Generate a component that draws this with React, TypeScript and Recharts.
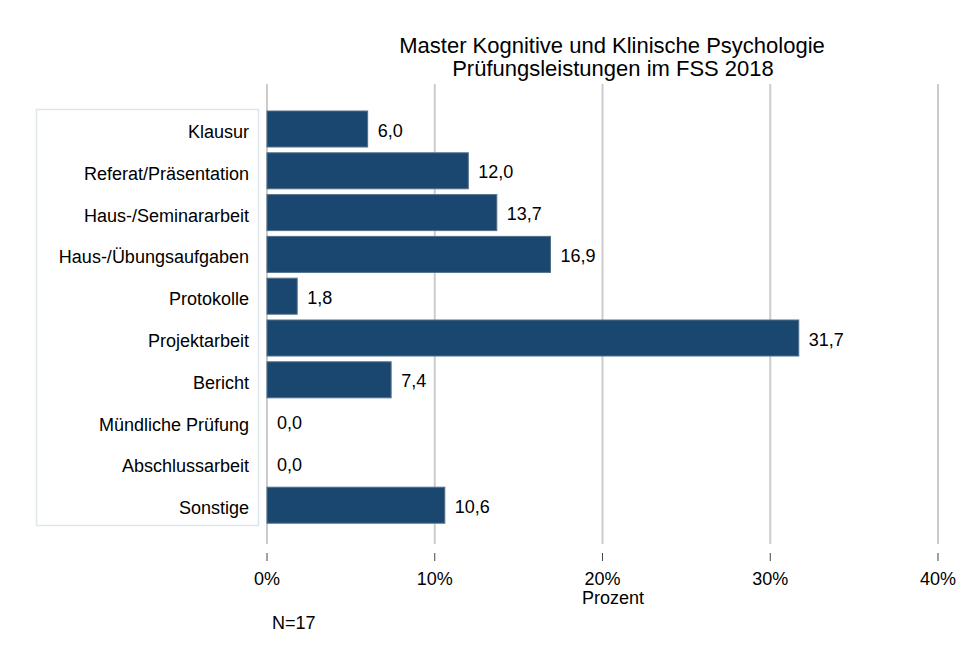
import React from 'react';
import { BarChart, Bar, XAxis, YAxis, CartesianGrid, LabelList } from 'recharts';

const categories = [
  'Klausur',
  'Referat/Präsentation',
  'Haus-/Seminararbeit',
  'Haus-/Übungsaufgaben',
  'Protokolle',
  'Projektarbeit',
  'Bericht',
  'Mündliche Prüfung',
  'Abschlussarbeit',
  'Sonstige',
];
const percentages = [6.0, 12.0, 13.7, 16.9, 1.8, 31.7, 7.4, 0.0, 0.0, 10.6];
const xTicks = [0, 10, 20, 30, 40];
const titleLines = ['Master Kognitive und Klinische Psychologie', 'Prüfungsleistungen im FSS 2018'];
const axisTitle = 'Prozent';
const note = 'N=17';

const data = categories.map((c, i) => ({ category: c, value: percentages[i] }));

const FONT = '"Liberation Sans", Arial, sans-serif';

const XTick = (props: any) => {
  const { x, y, payload } = props;
  return (
    <g>
      <line x1={x} x2={x} y1={y + 9} y2={y + 17} stroke="#444" strokeWidth={1} />
      <text x={x} y={y + 41} textAnchor="middle" fontSize={18} fontFamily={FONT} fill="#000">
        {payload.value}%
      </text>
    </g>
  );
};

const YTick = (props: any) => {
  const { x, y, payload } = props;
  return (
    <text x={x} y={y + 9} textAnchor="end" fontSize={18} fontFamily={FONT} fill="#000">
      {payload.value}
    </text>
  );
};

const ValueLabel = (props: any) => {
  const { x, y, width, height, value } = props;
  return (
    <text
      x={Number(x) + Number(width) + 10}
      y={Number(y) + Number(height) / 2 + 7.5}
      textAnchor="start"
      fontSize={18}
      fontFamily={FONT}
      fill="#000"
    >
      {Number(value).toFixed(1).replace('.', ',')}
    </text>
  );
};

const BarShape = (props: any) => {
  const { x, y, width, height, payload } = props;
  if (!payload || !(payload.value > 0)) return <g />;
  return (
    <rect
      x={x}
      y={y}
      width={width}
      height={height}
      fill="#1a476f"
      stroke="#53708b"
      strokeWidth={1}
    />
  );
};

export default function App() {
  return (
    <div style={{ position: 'absolute', left: 0, top: 0, width: 973, height: 655, background: '#fff' }}>
      <svg
        width={973}
        height={655}
        style={{ position: 'absolute', left: 0, top: 0 }}
        fontFamily={FONT}
      >
        <rect x={36.5} y={109.5} width={222} height={416} fill="#fff" stroke="#dde7ea" strokeWidth={1.5} />
        <text x={612} y={53} textAnchor="middle" fontSize={22} fill="#000">
          {titleLines[0]}
        </text>
        <text x={613} y={76} textAnchor="middle" fontSize={22} fill="#000">
          {titleLines[1]}
        </text>
        <text x={613} y={604} textAnchor="middle" fontSize={18} fill="#000">
          {axisTitle}
        </text>
        <text x={272} y={629} textAnchor="start" fontSize={18} fill="#000">
          {note}
        </text>
      </svg>
      <div style={{ position: 'absolute', left: 0, top: 0 }}>
        <BarChart
          width={973}
          height={655}
          data={data}
          layout="vertical"
          margin={{ top: 84, right: 35, bottom: 51, left: 0 }}
        >
          <CartesianGrid horizontal={false} vertical={true} stroke="#cccccc" strokeWidth={2} />
          <XAxis
            type="number"
            domain={[0, 40]}
            ticks={xTicks}
            height={60}
            axisLine={false}
            tickLine={false}
            tickSize={0}
            tickMargin={0}
            tick={<XTick />}
            interval={0}
          />
          <YAxis
            type="category"
            dataKey="category"
            width={267}
            axisLine={false}
            tickLine={false}
            tickSize={0}
            tickMargin={18}
            tick={<YTick />}
            interval={0}
            padding={{ top: 24, bottom: 18 }}
          />
          <Bar
            dataKey="value"
            fill="#1a476f"
            barSize={36}
            minPointSize={0.01}
            shape={<BarShape />}
            isAnimationActive={false}
          >
            <LabelList dataKey="value" content={<ValueLabel />} />
          </Bar>
        </BarChart>
      </div>
    </div>
  );
}
